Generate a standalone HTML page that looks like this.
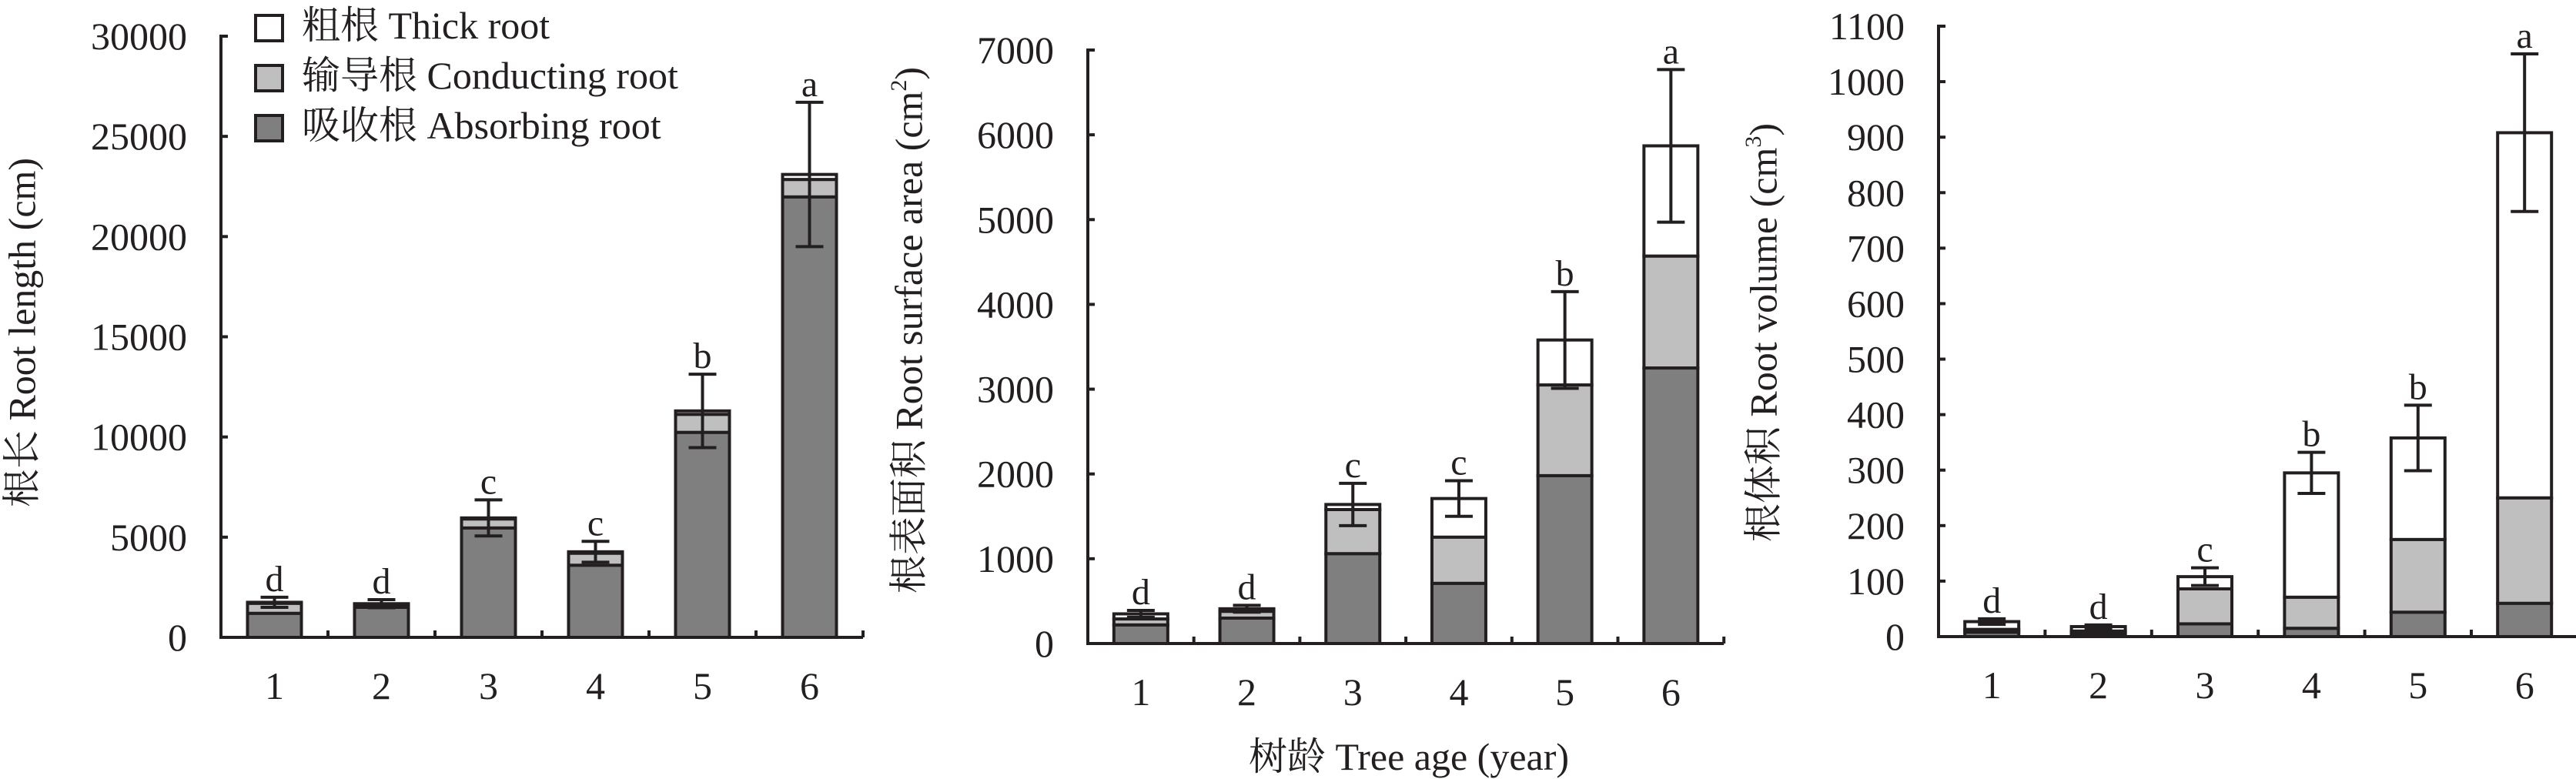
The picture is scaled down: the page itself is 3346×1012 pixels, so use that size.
<!DOCTYPE html>
<html><head><meta charset="utf-8">
<style>
html,body{margin:0;padding:0;background:#fff;}
svg{display:block;}
text{font-family:"Liberation Serif","Noto Serif CJK SC","Noto Sans CJK SC",serif;fill:#231f20;}
</style></head>
<body>
<svg id="chart" width="3346" height="1012" viewBox="0 0 3346 1012" xmlns="http://www.w3.org/2000/svg">
<g id="legend">
  <g>
    <rect x="332" y="20" width="35" height="33" fill="#fff" stroke="#231f20" stroke-width="4"/>
    <text x="392" y="50" font-size="50">粗根 Thick root</text>
  </g>
  <g>
    <rect x="332" y="85" width="35" height="33" fill="#bfbfbf" stroke="#231f20" stroke-width="4"/>
    <text x="392" y="115" font-size="50">输导根 Conducting root</text>
  </g>
  <g>
    <rect x="332" y="150" width="35" height="33" fill="#7f7f7f" stroke="#231f20" stroke-width="4"/>
    <text x="392" y="180" font-size="50">吸收根 Absorbing root</text>
  </g>
</g>
<text x="1830" y="1000" font-size="50" text-anchor="middle">树龄 Tree age (year)</text>
</svg>
<script>
const categories = ["1","2","3","4","5","6"];
// Panel A: root length (cm)
const lengthAbsorbing = [1200, 1500, 5460, 3600, 10230, 21980];
const lengthConducting = [500, 150, 450, 600, 900, 870];
const lengthThick = [50, 30, 50, 70, 170, 250];
const lengthError = [250, 200, 900, 520, 1830, 3600];
const lengthLetters = ["d","d","c","c","b","a"];
const lengthTicks = [0, 5000, 10000, 15000, 20000, 25000, 30000];
// Panel B: root surface area (cm2)
const areaAbsorbing = [220, 300, 1060, 710, 1980, 3250];
const areaConducting = [70, 80, 520, 545, 1070, 1320];
const areaThick = [60, 30, 60, 455, 530, 1300];
const areaError = [40, 40, 250, 210, 570, 900];
const areaLetters = ["d","d","c","c","b","a"];
const areaTicks = [0, 1000, 2000, 3000, 4000, 5000, 6000, 7000];
// Panel C: root volume (cm3)
const volAbsorbing = [8, 5, 23, 15, 44, 60];
const volConducting = [5, 5, 63, 56, 131, 190];
const volThick = [14, 8, 22, 224, 183, 658];
const volError = [5, 3, 16, 37, 59, 142];
const volLetters = ["d","d","c","b","b","a"];
const volTicks = [0, 100, 200, 300, 400, 500, 600, 700, 800, 900, 1000, 1100];

const NS = "http://www.w3.org/2000/svg";
const svg = document.getElementById("chart");
const INK = "#231f20";
function mk(tag, attrs, parent) {
  const e = document.createElementNS(NS, tag);
  for (const k in attrs) e.setAttribute(k, attrs[k]);
  (parent || svg).appendChild(e);
  return e;
}

function panel(cfg) {
  const g = mk("g", {});
  
  
  const x0 = cfg.x0, step = cfg.step, yTop = cfg.yTop, yZero = cfg.yZero;
  const maxV = cfg.ticks[cfg.ticks.length - 1];
  const yScale = v => yZero - (v / maxV) * (yZero - yTop);
  const xCenter = i => x0 + step * (i + 0.5);
  const xEnd = x0 + step * categories.length;
  const bw = 70;

  // bars
  categories.forEach((c, i) => {
    const bg = mk("g", {}, g);
    
    
    const a = cfg.abs[i], b = cfg.con[i], t = cfg.thk[i];
    const segs = [[0, a, "#7f7f7f", "absorbing"], [a, a + b, "#bfbfbf", "conducting"], [a + b, a + b + t, "#ffffff", "thick"]];
    segs.forEach(s => {
      const r = mk("rect", {x: xCenter(i) - bw / 2, y: yScale(s[1]), width: bw, height: Math.max(0, yScale(s[0]) - yScale(s[1])), fill: s[2], stroke: INK, "stroke-width": 4}, bg);
      
      
    });
    const total = a + b + t, e = cfg.err[i];
    const eg = mk("g", {stroke: INK, "stroke-width": 4}, bg);
    
    
    mk("line", {x1: xCenter(i), x2: xCenter(i), y1: yScale(total + e), y2: yScale(Math.max(0, total - e))}, eg);
    mk("line", {x1: xCenter(i) - 18, x2: xCenter(i) + 18, y1: yScale(total + e), y2: yScale(total + e)}, eg);
    mk("line", {x1: xCenter(i) - 18, x2: xCenter(i) + 18, y1: yScale(Math.max(0, total - e)), y2: yScale(Math.max(0, total - e))}, eg);
    const lt = mk("text", {x: xCenter(i), y: yScale(total + e) - 8, "font-size": 48, "text-anchor": "middle"}, bg);
    lt.textContent = cfg.letters[i];
    
    
    const xl = mk("text", {x: xCenter(i), y: yZero + 80, "font-size": 50, "text-anchor": "middle"}, g);
    xl.textContent = c;
    
    
  });

  // axes
  const ax = mk("g", {stroke: INK, "stroke-width": 4, fill: "none"}, g);
  
  
  mk("line", {x1: x0, x2: x0, y1: yTop - 2, y2: yZero + 2}, ax);
  mk("line", {x1: x0 - 2, x2: xEnd, y1: yZero, y2: yZero}, ax);
  for (let i = 1; i <= categories.length; i++) {
    mk("line", {x1: x0 + step * i, x2: x0 + step * i, y1: yZero, y2: yZero - 9}, ax);
  }
  cfg.ticks.forEach(v => {
    mk("line", {x1: x0, x2: x0 + 9, y1: yScale(v), y2: yScale(v)}, ax);
    const tl = mk("text", {x: x0 - 44, y: yScale(v) + 17, "font-size": 50, "text-anchor": "end"}, g);
    tl.textContent = v;
    
    
  });
  const yt = mk("text", {x: cfg.titleX, y: cfg.titleY, "font-size": 50, "text-anchor": "middle", transform: "rotate(-90 " + cfg.titleX + " " + cfg.titleY + ")", "dominant-baseline": "middle"}, g);
  
  
  yt.textContent = cfg.title;
  if (cfg.sup) {
    const ts = mk("tspan", {"font-size": 30, dy: -16}, yt); ts.textContent = cfg.sup;
    const te = mk("tspan", {dy: 16}, yt); te.textContent = ")";
  }
}

panel({name: "root-length-panel", prefix: "length", x0: 287, step: 139, yTop: 47, yZero: 828,
  ticks: lengthTicks, abs: lengthAbsorbing, con: lengthConducting, thk: lengthThick, err: lengthError, letters: lengthLetters,
  titleX: 34, titleY: 432, title: "根长 Root length (cm)"});
panel({name: "root-surface-area-panel", prefix: "area", x0: 1413, step: 137.7, yTop: 65, yZero: 836,
  ticks: areaTicks, abs: areaAbsorbing, con: areaConducting, thk: areaThick, err: areaError, letters: areaLetters,
  titleX: 1186, titleY: 429, title: "根表面积 Root surface area (cm", sup: "2"});
panel({name: "root-volume-panel", prefix: "volume", x0: 2518, step: 138.4, yTop: 34, yZero: 827,
  ticks: volTicks, abs: volAbsorbing, con: volConducting, thk: volThick, err: volError, letters: volLetters,
  titleX: 2296, titleY: 432, title: "根体积 Root volume (cm", sup: "3"});
</script>
</body></html>
